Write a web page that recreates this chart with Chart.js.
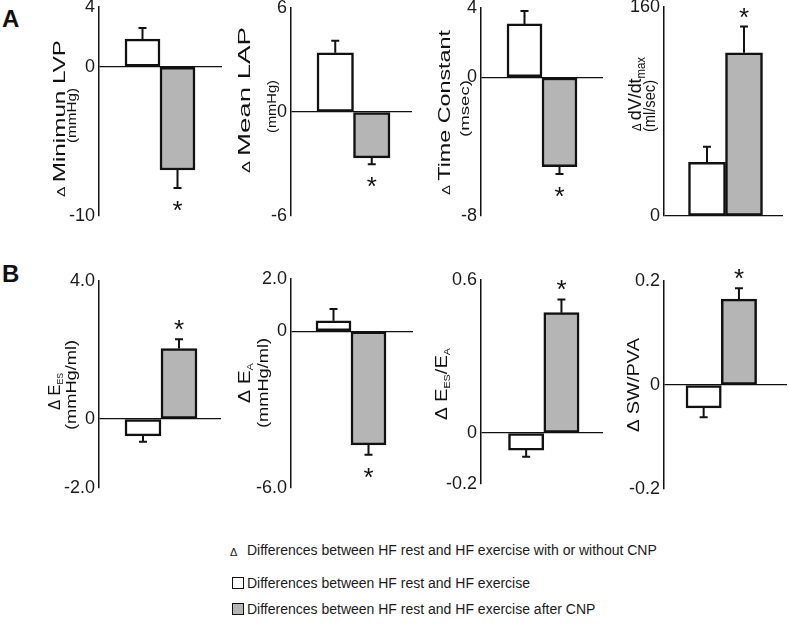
<!DOCTYPE html>
<html>
<head>
<meta charset="utf-8">
<script src="https://cdn.jsdelivr.net/npm/chart.js@4.4.0/dist/chart.umd.min.js"></script>
<style>
  body { margin: 0; background: #fff; width: 789px; height: 624px; position: relative; overflow: hidden;
         font-family: "Liberation Sans", Arial, sans-serif; color: #1a1a1a; }
  canvas { position: absolute; }
  .tag { position: absolute; left: 2px; font-weight: bold; font-size: 24px; line-height: 24px; color: #111; }
  .leg { position: absolute; font-size: 14px; line-height: 14px; white-space: nowrap; }
  .box { position: absolute; width: 12px; height: 12px; box-sizing: border-box; border: 1.6px solid #111; }
</style>
</head>
<body>
<div class="tag" style="top:7px">A</div>
<div class="tag" style="top:262px">B</div>

<div class="leg" style="left:230px; top:545px; font-size:11px">&#916;</div>
<div class="leg" style="left:247px; top:543px">Differences between HF rest and HF exercise with or without CNP</div>
<div class="box" style="left:232px; top:577px; background:#fff"></div>
<div class="leg" style="left:247px; top:576px">Differences between HF rest and HF exercise</div>
<div class="box" style="left:232px; top:603px; background:#b5b5b5"></div>
<div class="leg" style="left:247px; top:602px">Differences between HF rest and HF exercise after CNP</div>

<script>
// two bars per panel: HF rest -> exercise, and HF rest -> exercise after CNP
const groups = ["HF exercise", "HF exercise after CNP"];
const barColors = ["#ffffff", "#b5b5b5"];

const meanValues = [
  [1.85, -6.92],   // min LVP
  [3.42, -2.65],   // mean LAP
  [3.08, -5.16],   // time constant
  [41, 125],       // dV/dt max
  [-0.49, 2.04],   // Ees
  [0.40, -4.35],   // Ea
  [-0.067, 0.472], // Ees/Ea
  [-0.044, 0.165]  // SW/PVA
];
const errValues = [
  [0.74, 1.2],
  [0.69, 0.37],
  [0.75, 0.42],
  [12, 20],
  [0.17, 0.27],
  [0.45, 0.38],
  [0.026, 0.052],
  [0.018, 0.021]
];
const significant = [
  [false, true], [false, true], [false, true], [false, true],
  [false, true], [false, true], [false, true], [false, true]
];

const yTicks = [
  [-10, 0, 4], [-6, 0, 6], [-8, 0, 4], [0, 160],
  [-2, 0, 4], [-6, 0, 2], [-0.2, 0, 0.6], [-0.2, 0, 0.2]
];
const yTickText = [
  ["-10", "0", "4"], ["-6", "0", "6"], ["-8", "0", "4"], ["0", "160"],
  ["-2.0", "0", "4.0"], ["-6.0", "0", "2.0"], ["-0.2", "0", "0.6"], ["-0.2", "0", "0.2"]
];

// axis titles: [text, font size, subscript shift]
const titles = [
  [[["\u0394 ", 11], ["Minimun LVP", 17]], [["(mmHg)", 13]]],
  [[["\u0394 ", 11], ["Mean LAP", 17]], [["(mmHg)", 13]]],
  [[["\u0394 ", 11], ["Time Constant", 17]], [["(msec)", 13]]],
  [[["\u0394 ", 12], ["dV/dt", 19], ["max", 12, 4]], [["(ml/sec)", 16]]],
  [[["\u0394 ", 16], ["E", 17], ["ES", 9, 3]], [["(mmHg/ml)", 15]]],
  [[["\u0394 ", 16], ["E", 17], ["A", 9, 3]], [["(mmHg/ml)", 15]]],
  [[["\u0394 ", 16], ["E", 17], ["ES", 9, 3], ["/E", 17], ["A", 9, 3]]],
  [[["\u0394 ", 16], ["SW/PVA", 17]]]
];

// page layout of each panel: axis x, line end, plot top/bottom, first bar left, bar width
const frames = [
  { ax: 99,  right: 222, top: 7,   bottom: 216, barLeft: 125,   barW: 35,   row: 0 },
  { ax: 291, right: 412, top: 8,   bottom: 216, barLeft: 317,   barW: 36.5, row: 0 },
  { ax: 481, right: 603, top: 8,   bottom: 216, barLeft: 507,   barW: 35,   row: 0 },
  { ax: 664, right: 783, top: 7,   bottom: 216, barLeft: 688.5, barW: 37,   row: 0 },
  { ax: 99,  right: 221, top: 281, bottom: 488, barLeft: 125,   barW: 36,   row: 1 },
  { ax: 291, right: 413, top: 279, bottom: 488, barLeft: 316,   barW: 35,   row: 1 },
  { ax: 481, right: 603, top: 280, bottom: 484, barLeft: 508.5, barW: 35.3, row: 1 },
  { ax: 664, right: 787, top: 281, bottom: 489, barLeft: 686,   barW: 35.3, row: 1 }
];
// baseline x, centre y, length of each title line
const titlePos = [
  [[65, 118.5, 157], [75.5, 115.5, 55]],
  [[250, 100, 146], [276, 106.5, 53]],
  [[450, 112.5, 165], [469, 108.5, 57]],
  [[641, 94, 74], [655, 106, 52]],
  [[60, 391.5, 37], [76, 385, 90]],
  [[250, 383, 40], [268, 383, 90]],
  [[447, 384, 72]],
  [[639, 385, 94]]
];

const FONT = '"Liberation Sans", Arial, sans-serif';
const AXIS_W = 40;

function decor(i, left, top) {
  return {
    id: "decor" + i,
    afterDatasetsDraw(chart) {
      const ctx = chart.ctx;
      const y = chart.scales.y;
      const meta = chart.getDatasetMeta(0);
      ctx.save();
      ctx.strokeStyle = "#111";
      ctx.fillStyle = "#111";
      ctx.lineWidth = 2;
      meta.data.forEach((bar, j) => {
        const v = meanValues[i][j];
        const s = v < 0 ? -1 : 1;
        const yEnd = y.getPixelForValue(v + s * errValues[i][j]);
        ctx.beginPath();
        ctx.moveTo(bar.x, bar.y);
        ctx.lineTo(bar.x, yEnd);
        ctx.moveTo(bar.x - 4, yEnd);
        ctx.lineTo(bar.x + 4, yEnd);
        ctx.stroke();
        if (significant[i][j]) {
          ctx.font = "26px " + FONT;
          ctx.textAlign = "center";
          ctx.textBaseline = "alphabetic";
          const c = yEnd - s * 16;
          ctx.fillText("*", bar.x, c + 15);
        }
      });
      ctx.restore();
    },
    afterDraw(chart) {
      const ctx = chart.ctx;
      titles[i].forEach((parts, k) => {
        const [bx, cy, len] = titlePos[i][k];
        ctx.save();
        let w = 0;
        const widths = parts.map(p => {
          ctx.font = p[1] + "px " + FONT;
          const m = ctx.measureText(p[0]).width;
          w += m;
          return m;
        });
        ctx.translate(bx - left, cy - top);
        ctx.rotate(-Math.PI / 2);
        ctx.scale(len / w, 1);
        ctx.fillStyle = "#111";
        ctx.textBaseline = "alphabetic";
        ctx.textAlign = "left";
        let pos = -w / 2;
        parts.forEach((p, n) => {
          ctx.font = p[1] + "px " + FONT;
          ctx.fillText(p[0], pos, p[2] || 0);
          pos += widths[n];
        });
        ctx.restore();
      });
    }
  };
}

frames.forEach((f, i) => {
  const left = f.ax - 99;
  const top = f.row ? 250 : 0;
  const height = f.row ? 250 : 230;
  const width = f.right - left + 2;
  const canvas = document.createElement("canvas");
  canvas.width = width;
  canvas.height = height;
  canvas.style.left = left + "px";
  canvas.style.top = top + "px";
  document.body.appendChild(canvas);

  const xIdx = groups.map((g, j) => j + 1);
  const xMin = 0.5 - (f.barLeft - f.ax) / f.barW;
  const xMax = xMin + (f.right - f.ax) / f.barW;
  const ticks = yTicks[i];

  new Chart(canvas, {
    type: "bar",
    data: {
      datasets: [{
        data: xIdx.map((x, j) => ({ x: x, y: meanValues[i][j] })),
        backgroundColor: barColors,
        borderColor: "#111",
        borderWidth: 2.5,
        borderSkipped: false,
        barPercentage: 1,
        categoryPercentage: 1
      }]
    },
    options: {
      responsive: false,
      animation: false,
      layout: {
        padding: {
          left: f.ax - left - AXIS_W,
          right: width - (f.right - left),
          top: f.top - top,
          bottom: top + height - f.bottom
        }
      },
      plugins: { legend: { display: false }, tooltip: { enabled: false } },
      scales: {
        x: {
          type: "linear",
          display: false,
          offset: false,
          min: xMin,
          max: xMax,
          afterBuildTicks: s => { s.ticks = xIdx.map(v => ({ value: v })); }
        },
        y: {
          min: ticks[0],
          max: ticks[ticks.length - 1],
          afterBuildTicks: s => { s.ticks = ticks.map(v => ({ value: v })); },
          afterFit: s => { s.width = AXIS_W; s.paddingTop = 0; s.paddingBottom = 0; },
          ticks: {
            padding: 4,
            color: "#1a1a1a",
            font: { family: FONT, size: 18 },
            callback: (v, k) => yTickText[i][k]
          },
          grid: {
            drawTicks: false,
            lineWidth: 1.3,
            color: c => (c.tick && c.tick.value === 0 ? "#111" : "rgba(0,0,0,0)")
          },
          border: { display: true, color: "#111", width: 1.5 }
        }
      }
    },
    plugins: [decor(i, left, top)]
  });
});
</script>
</body>
</html>
